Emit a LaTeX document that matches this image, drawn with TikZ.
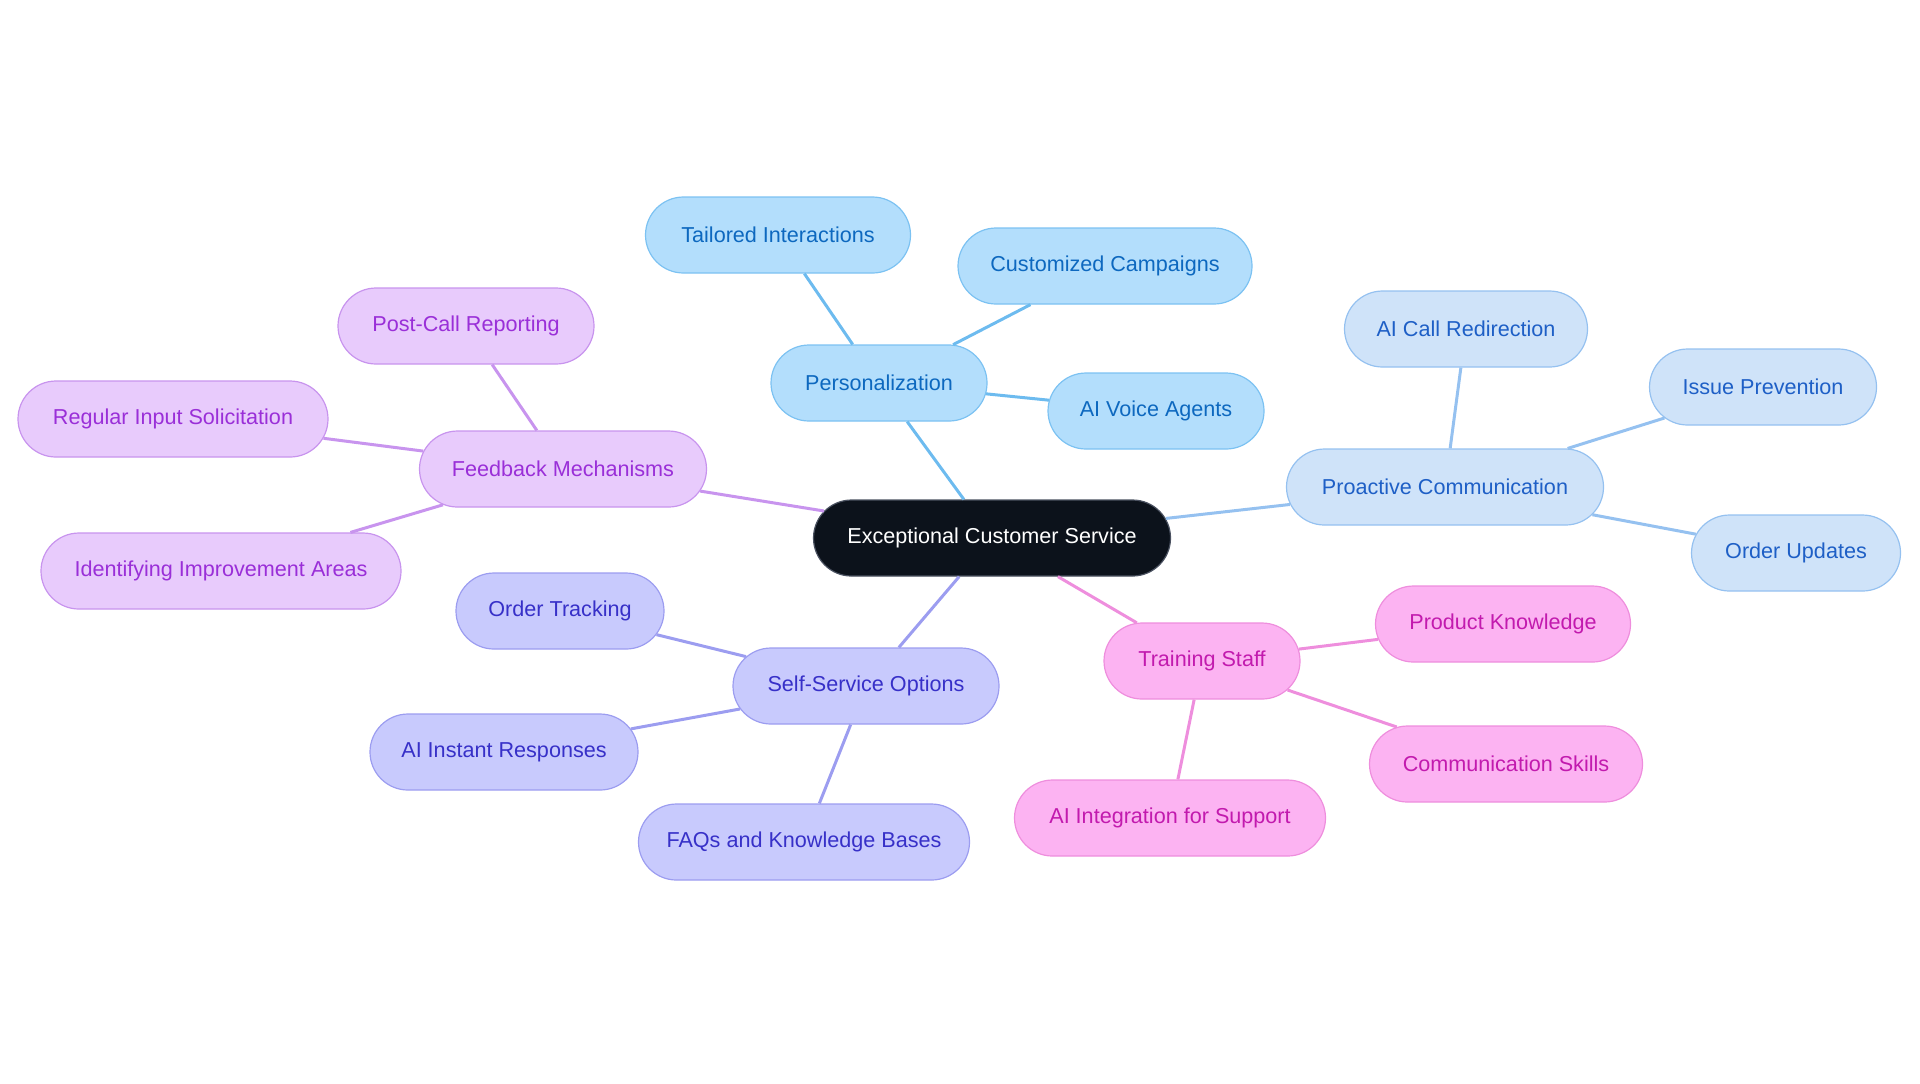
\documentclass[tikz,border=0pt]{standalone}
\usepackage{fontspec}
\setmainfont{Liberation Sans}
\usepackage{xcolor}
\usepackage{tikz}
\usetikzlibrary{shapes.misc,positioning}

\definecolor{rootfill}{HTML}{0C121B}
\definecolor{rootedge}{HTML}{4A5160}
\definecolor{skyfill}{HTML}{B3DEFC}
\definecolor{skyedge}{HTML}{7CC2F2}
\definecolor{skyline}{HTML}{6DBBEF}
\definecolor{skytext}{HTML}{0D68BF}
\definecolor{paleblfill}{HTML}{CFE3F9}
\definecolor{paleble}{HTML}{95C1F0}
\definecolor{palebltext}{HTML}{1E5FC6}
\definecolor{lilacfill}{HTML}{E8CBFC}
\definecolor{lilacedge}{HTML}{C894EE}
\definecolor{lilactext}{HTML}{9A2FD8}
\definecolor{indfill}{HTML}{C8CAFD}
\definecolor{indedge}{HTML}{9C9DF0}
\definecolor{indtext}{HTML}{3730C8}
\definecolor{pinkfill}{HTML}{FCB3F2}
\definecolor{pinkedge}{HTML}{EE8EDD}
\definecolor{pinktext}{HTML}{C21AAE}

\begin{document}
\begin{tikzpicture}[
        x=0.5pt, y=-0.5pt,
        every node/.style={font=\fontsize{10.8}{13}\selectfont},
        topic/.style={rounded rectangle, draw, line width=0.6pt, minimum height=38pt, inner xsep=4pt},
        root/.style={topic, fill=rootfill, draw=rootedge, text=white},
        sky/.style={topic, fill=skyfill, draw=skyedge, text=skytext},
        palebl/.style={topic, fill=paleblfill, draw=paleble, text=palebltext},
        lilac/.style={topic, fill=lilacfill, draw=lilacedge, text=lilactext},
        ind/.style={topic, fill=indfill, draw=indedge, text=indtext},
        pink/.style={topic, fill=pinkfill, draw=pinkedge, text=pinktext},
        link/.style={line width=1.5pt}
    ]
        \useasboundingbox (0,0) rectangle (1920,1083);

        % Root
        \node[root, minimum width=186.5pt] (ecs) at (992,538) {Exceptional Customer Service};

        % Personalization
        \node[sky, minimum width=116pt] (pers) at (879,383) {Personalization};
        \node[sky, minimum width=140.5pt] (tail) at (778,235) {Tailored Interactions};
        \node[sky, minimum width=155pt] (camp) at (1105,266) {Customized Campaigns};
        \node[sky, minimum width=116pt] (voice) at (1156,411) {AI Voice Agents};

        % Proactive communication
        \node[palebl, minimum width=166.5pt] (proa) at (1445,487) {Proactive Communication};
        \node[palebl, minimum width=129.5pt] (redir) at (1466,329) {AI Call Redirection};
        \node[palebl, minimum width=121.5pt] (issue) at (1763,387) {Issue Prevention};
        \node[palebl, minimum width=112.5pt] (upd) at (1796,553) {Order Updates};

        % Feedback
        \node[lilac, minimum width=151.5pt] (feed) at (563,469) {Feedback Mechanisms};
        \node[lilac, minimum width=136pt] (post) at (466,326) {Post-Call Reporting};
        \node[lilac, minimum width=163pt] (input) at (173,419) {Regular Input Solicitation};
        \node[lilac, minimum width=188pt] (ident) at (221,571) {Identifying Improvement Areas};

        % Self-service
        \node[ind, minimum width=141pt] (self) at (866,686) {Self-Service Options};
        \node[ind, minimum width=112pt] (track) at (560,611) {Order Tracking};
        \node[ind, minimum width=142pt] (instant) at (504,752) {AI Instant Responses};
        \node[ind, minimum width=173.5pt] (faq) at (804,842) {FAQs and Knowledge Bases};

        % Training
        \node[pink, minimum width=106pt] (train) at (1202,661) {Training Staff};
        \node[pink, minimum width=135.5pt] (prod) at (1503,624) {Product Knowledge};
        \node[pink, minimum width=144.5pt] (comm) at (1506,764) {Communication Skills};
        \node[pink, minimum width=163.5pt] (integ) at (1170,818) {AI Integration for Support};

        % Connections
        \draw[link, draw=skyline] (ecs) -- (pers);
        \draw[link, draw=skyline] (pers) -- (tail);
        \draw[link, draw=skyline] (pers) -- (camp);
        \draw[link, draw=skyline] (pers) -- (voice);

        \draw[link, draw=paleble] (ecs) -- (proa);
        \draw[link, draw=paleble] (proa) -- (redir);
        \draw[link, draw=paleble] (proa) -- (issue);
        \draw[link, draw=paleble] (proa) -- (upd);

        \draw[link, draw=lilacedge] (ecs) -- (feed);
        \draw[link, draw=lilacedge] (feed) -- (post);
        \draw[link, draw=lilacedge] (feed) -- (input);
        \draw[link, draw=lilacedge] (feed) -- (ident);

        \draw[link, draw=indedge] (ecs) -- (self);
        \draw[link, draw=indedge] (self) -- (track);
        \draw[link, draw=indedge] (self) -- (instant);
        \draw[link, draw=indedge] (self) -- (faq);

        \draw[link, draw=pinkedge] (ecs) -- (train);
        \draw[link, draw=pinkedge] (train) -- (prod);
        \draw[link, draw=pinkedge] (train) -- (comm);
        \draw[link, draw=pinkedge] (train) -- (integ);

    \end{tikzpicture}
\end{document}
